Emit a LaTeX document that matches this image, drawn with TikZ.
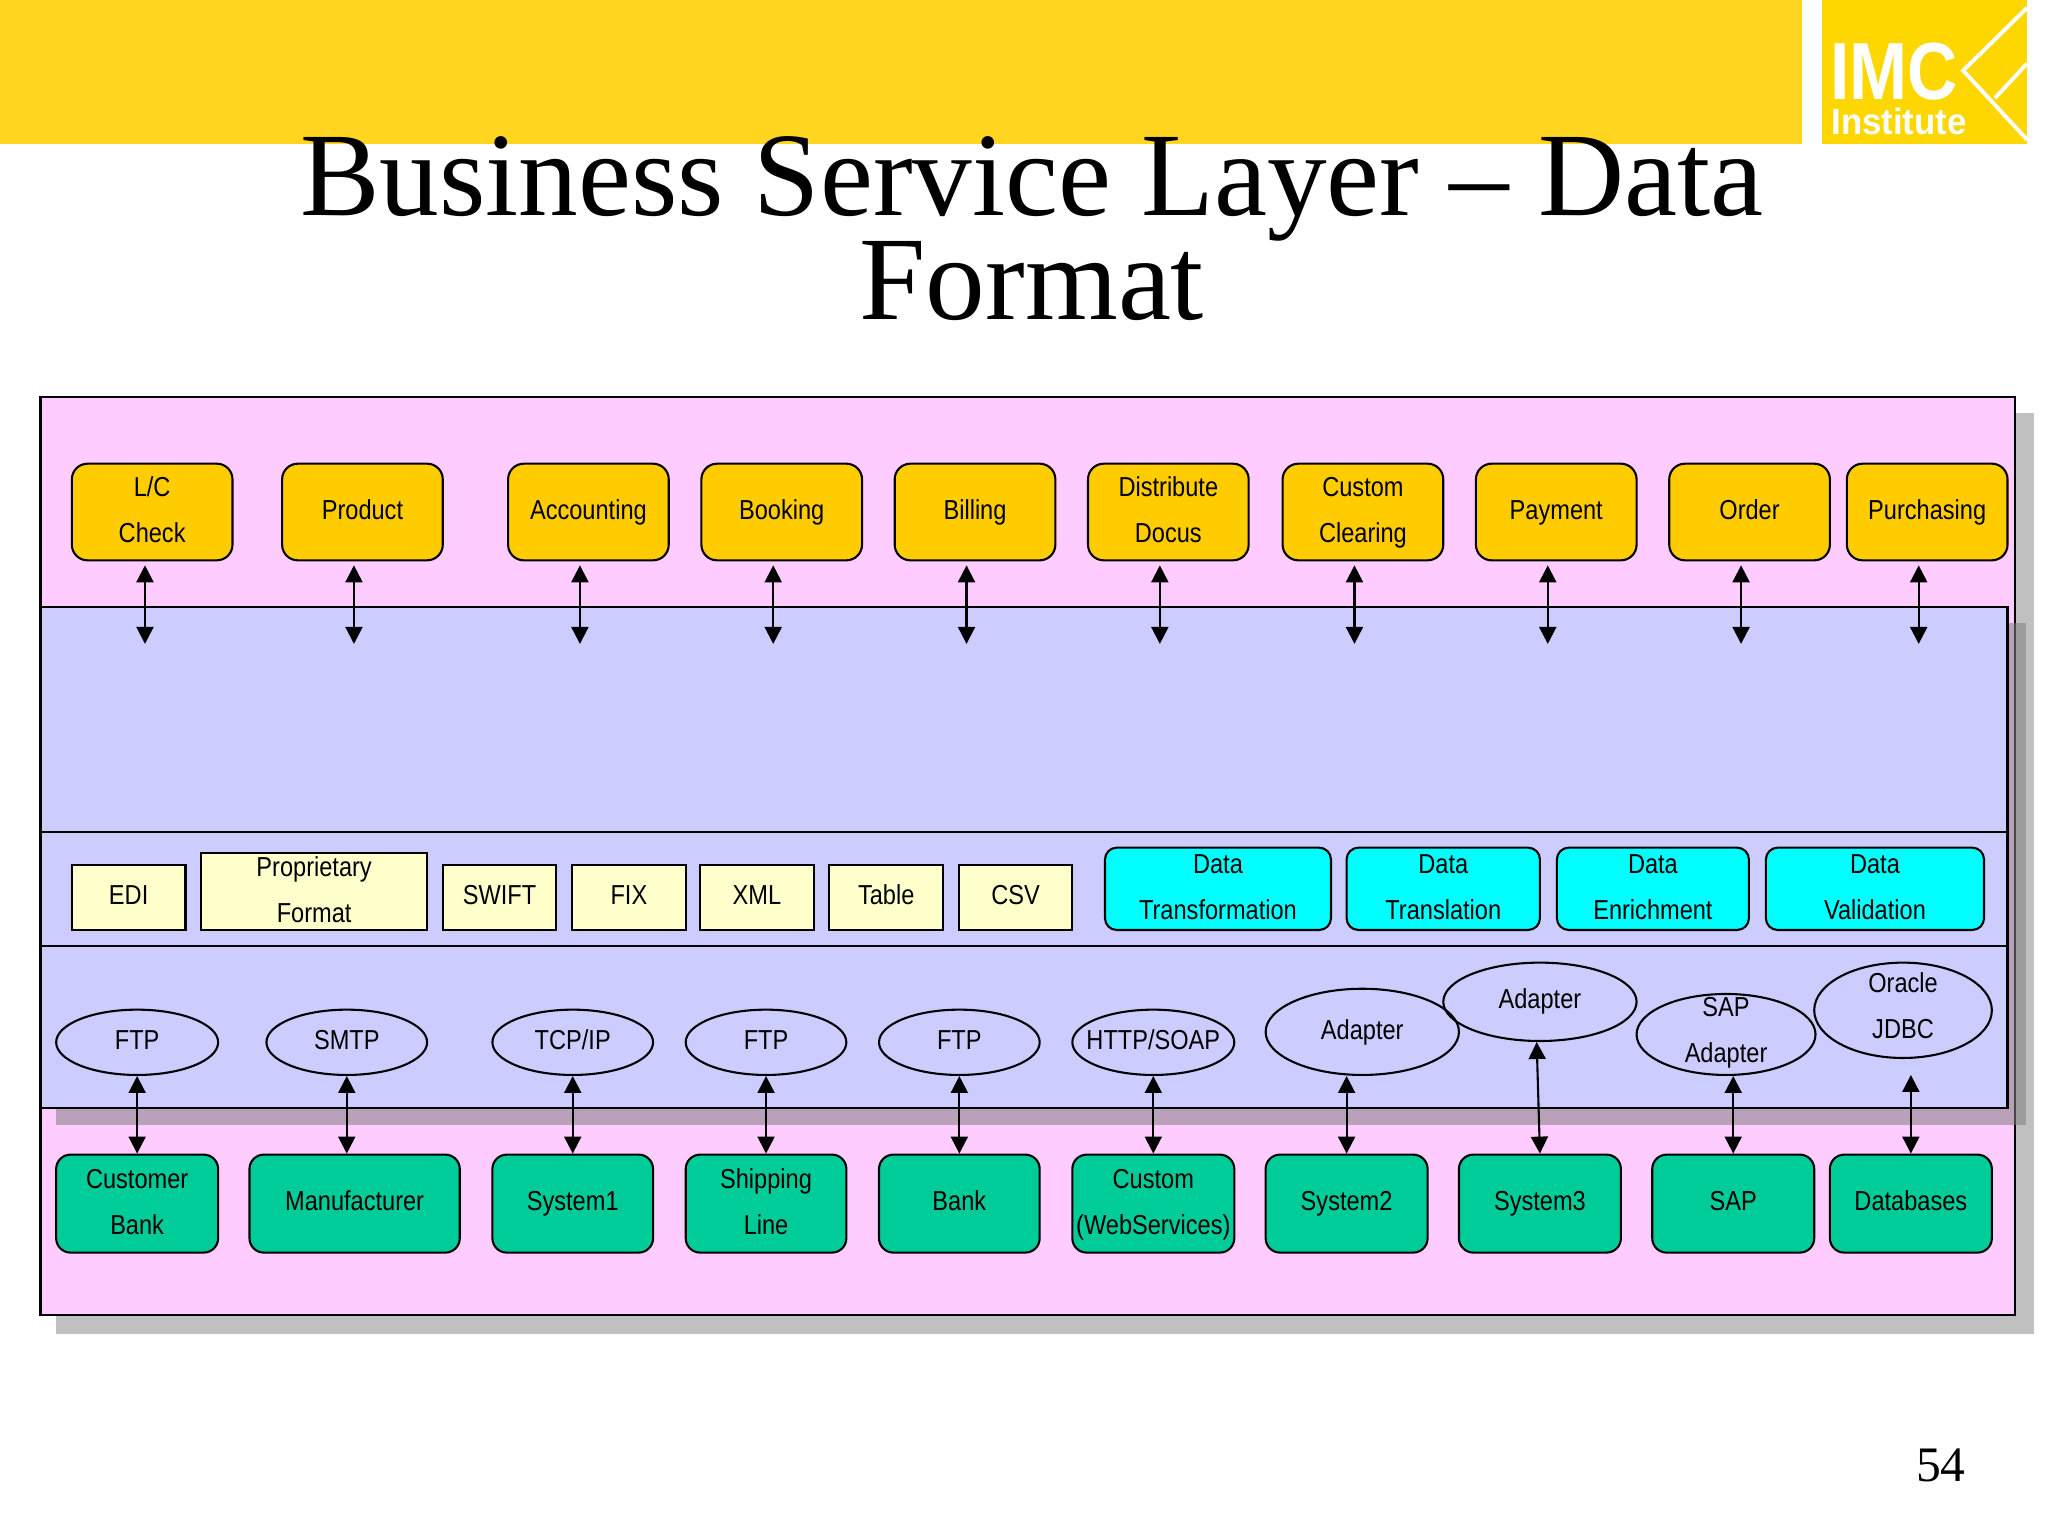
\documentclass[tikz,border=0pt]{standalone}
\usepackage{fontspec}
\setmainfont{Liberation Serif}
\newfontfamily\boxfont[FakeStretch=0.86]{Liberation Sans}
\newfontfamily\logofont[FakeStretch=0.86]{Liberation Sans}
\newfontfamily\institutefont[FakeStretch=0.95]{Liberation Sans}
\usetikzlibrary{arrows.meta, shapes.geometric}
\definecolor{bandyellow}{HTML}{FFD520}
\definecolor{logoyellow}{HTML}{FFD700}
\definecolor{layerpink}{HTML}{FFCCFF}
\definecolor{layerblue}{HTML}{CCCCFF}
\definecolor{boxorange}{HTML}{FFCC00}
\definecolor{boxcream}{HTML}{FFFFCC}
\definecolor{boxgreen}{HTML}{00CC99}
\definecolor{boxcyan}{HTML}{00FFFF}
\definecolor{shadowgray}{HTML}{C0C0C0}
\newcommand{\boxstrut}{\rule[-14pt]{0pt}{39pt}}
\newcommand{\twolines}[3][26pt]{\rule{0pt}{#1}#2\\#3}
\tikzset{
    boxtext/.style={font=\boxfont\fontsize{21}{35}\selectfont, align=center, inner xsep=0pt, inner ysep=-25pt, text=black, line width=1.6pt,
        execute at begin node=\boxstrut, execute at end node=\boxstrut},
    topbox/.style={boxtext, draw, fill=boxorange, rounded corners=12pt, minimum width=123pt, minimum height=74pt},
    sysbox/.style={boxtext, draw, fill=boxgreen, rounded corners=11pt, minimum height=75pt},
    fmtbox/.style={boxtext, draw, fill=boxcream, minimum height=50pt},
    databox/.style={boxtext, draw, fill=boxcyan, rounded corners=9pt, minimum height=63pt},
    protocol/.style={boxtext, draw, ellipse, inner xsep=-20pt},
    dblarrow/.style={line width=1.6pt, {Triangle[length=13pt,width=13pt]}-{Triangle[length=13pt,width=13pt]}}
}
\begin{document}
\begin{tikzpicture}[x=1pt, y=-1pt]
    \useasboundingbox (0, 0) rectangle (1568, 1176);

    % Header
    \fill[bandyellow] (0, 0) rectangle (1380, 110);
    \fill[logoyellow] (1395, 0) rectangle (1552, 110);
    \draw[white, line width=3pt] (1552, 6) -- (1503, 54) -- (1552, 107);
    \draw[white, line width=3pt] (1527.5, 75) -- (1552, 48.5);
    \node[anchor=base west, inner sep=0pt, text=white, font=\logofont\bfseries\fontsize{62}{62}\selectfont] (imc) at (1401, 76) {IMC};
    \node[anchor=base west, inner sep=0pt, text=white, font=\institutefont\bfseries\fontsize{28}{28}\selectfont] (institute) at (1402, 103) {Institute};
    \node[align=center, inner sep=0pt, font=\fontsize{91.3}{80}\selectfont] (title) at (790, 175) {Business Service Layer -- Data\\Format};
    \node[inner sep=0pt, font=\fontsize{38}{38}\selectfont] (pagenum) at (1486, 1122) {54};

    % Layers
    \fill[shadowgray] (43, 316) rectangle (1557, 1021);
    \draw[fill=layerpink, line width=1.6pt] (31, 304) rectangle (1543, 1007);
    \fill[gray, opacity=0.55] (43, 477) rectangle (1551, 861);
    \draw[fill=layerblue, line width=1.6pt] (31, 465) rectangle (1537, 848);
    \draw[line width=1.6pt] (31, 637) -- (1537, 637);
    \draw[line width=1.6pt] (31, 724) -- (1537, 724);

    % Top row
    \foreach \n/\cx/\ax/\txt in {lc/116.5/111/{\twolines{L/C}{Check}}, product/277.5/271/Product,
        accounting/450.5/444/Accounting, booking/598.5/592/Booking, billing/746.5/740/Billing,
        distribute/894.5/888/{\twolines{Distribute}{Docus}}, clearing/1043.5/1037/{\twolines{Custom}{Clearing}},
        payment/1191.5/1185/Payment, order/1339.5/1333/Order, purchasing/1475.5/1469/Purchasing} {
        \node[topbox] (\n) at (\cx, 392) {\txt};
        \coordinate (\n end) at (\ax, 493);
        \draw[dblarrow, shorten <=3pt] (\n end |- \n.south) -- (\n end);
    }

    % Formats
    \foreach \n/\cx/\w/\txt in {edi/98.5/87/EDI, swift/382.5/87/SWIFT, fix/481.5/87/FIX,
        xml/579.5/87/XML, tablefmt/678.5/87/Table, csv/777.5/87/CSV} {
        \node[fmtbox, minimum width=\w pt] (\n) at (\cx, 687) {\txt};
    }
    \node[fmtbox, minimum width=173pt, minimum height=59pt] (proprietary) at (240.5, 682.5) {\twolines{Proprietary}{Format}};

    % Data operations
    \foreach \n/\cx/\w/\txt in {transformation/932.5/173/{\twolines{Data}{Transformation}}, translation/1105/148/{\twolines{Data}{Translation}},
        enrichment/1265.5/147/{\twolines{Data}{Enrichment}}, validation/1435.5/167/{\twolines{Data}{Validation}}} {
        \node[databox, minimum width=\w pt] (\n) at (\cx, 680.5) {\txt};
    }

    % Protocols
    \foreach \n/\cx/\cy/\w/\h/\txt in {ftpa/105/798/124/50/FTP, smtp/265.5/798/123/50/SMTP, tcpip/438.5/798/123/50/{TCP/IP},
        ftpb/586.5/798/123/50/FTP, ftpc/734.5/798/123/50/FTP, httpsoap/883/798/124/50/{HTTP/SOAP},
        adaptera/1043/790/148/66/Adapter, adapterb/1179/767/148/60/Adapter,
        sapadapter/1321.5/792/137/62/{\twolines[22pt]{SAP}{Adapter}}, oracle/1457/773.5/136/73/{\twolines[22pt]{Oracle}{JDBC}}} {
        \node[protocol, minimum width=\w pt, minimum height=\h pt] (\n) at (\cx, \cy) {\txt};
    }

    % Systems
    \foreach \n/\cx/\w/\txt in {customer/105/124/{\twolines{Customer}{Bank}}, manufacturer/271.5/161/Manufacturer,
        systema/438.5/123/System1, shipping/586.5/123/{\twolines{Shipping}{Line}}, bank/734.5/123/Bank,
        webservices/883/124/{\twolines{Custom}{(WebServices)}}, systemb/1031/124/System2, systemc/1179/124/System3,
        sap/1327/124/SAP, databases/1463/124/Databases} {
        \node[sysbox, minimum width=\w pt] (\n) at (\cx, 921.5) {\txt};
    }

    % Links
    \draw[dblarrow] (customer.north) -- (ftpa.south);
    \draw[dblarrow] (smtp.south) -- (smtp.south |- manufacturer.north);
    \draw[dblarrow] (systema.north) -- (tcpip.south);
    \draw[dblarrow] (shipping.north) -- (ftpb.south);
    \draw[dblarrow] (bank.north) -- (ftpc.south);
    \draw[dblarrow] (webservices.north) -- (httpsoap.south);
    \draw[dblarrow] (systemb.north) -- (systemb.north |- adaptera.south);
    \draw[dblarrow] (systemc.north) -- ([xshift=-2.5pt]adapterb.south);
    \draw[dblarrow] (sap.north) -- (sap.north |- sapadapter.south);
    \coordinate (oracle end) at (1463, 823);
    \draw[dblarrow] (databases.north) -- (oracle end);
\end{tikzpicture}
\end{document}
